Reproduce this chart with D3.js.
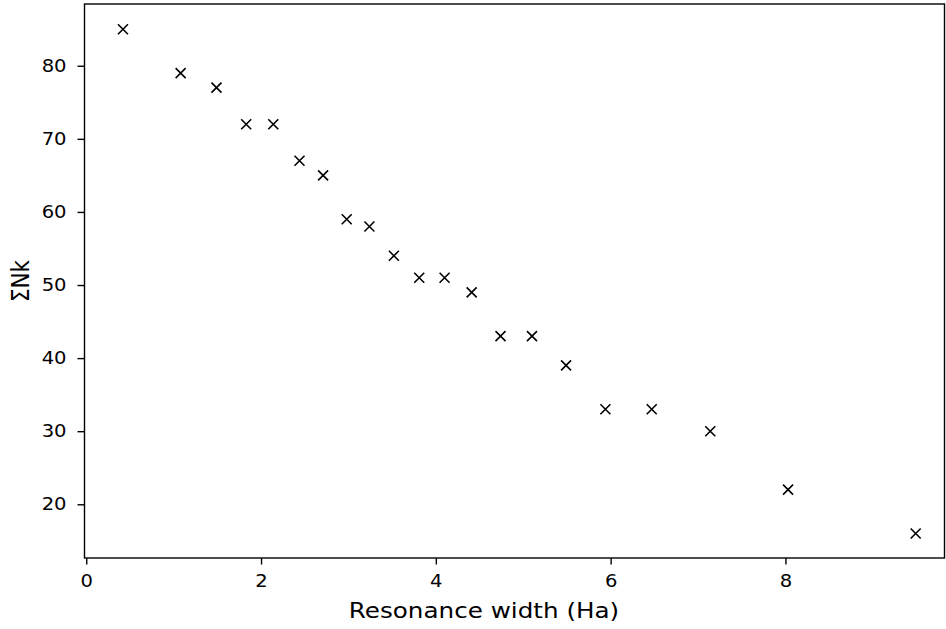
<!DOCTYPE html>
<html>
<head>
<meta charset="utf-8">
<script src="https://cdn.jsdelivr.net/npm/d3@7"></script>
<style>
  body { margin: 0; background: #fff; }
  #chart { width: 946px; height: 629px; }
  text { font-family: "DejaVu Sans", sans-serif; fill: #000; }
</style>
</head>
<body>
<div id="chart"></div>
<script>
// Datos
const widths = [0.42, 1.08, 1.49, 1.83, 2.14, 2.44, 2.71, 2.98, 3.24, 3.52, 3.81, 4.10, 4.41, 4.74, 5.10, 5.49, 5.94, 6.47, 7.14, 8.03, 9.49];
const sumNk = [85, 79, 77, 72, 72, 67, 65, 59, 58, 54, 51, 51, 49, 43, 43, 39, 33, 33, 30, 22, 16];
const xTicks = [0, 2, 4, 6, 8];
const yTicks = [20, 30, 40, 50, 60, 70, 80];

const data = widths.map(function(w, i) { return {x: w, y: sumNk[i]}; });

// la imagen original está estirada en horizontal
const STRETCH = 1.12;

let margin = {top: 4, right: 1.5, bottom: 71, left: 84.5},
    width = 946 - margin.left - margin.right,
    height = 629 - margin.top - margin.bottom;

let svg = d3.select("#chart")
    .append("svg")
        .attr("width", 946)
        .attr("height", 629)
    .append("g")
        .attr("transform", "translate(" + margin.left + "," + margin.top + ")");

let x = d3.scaleLinear()
    .domain([-0.02, 9.82])
    .range([0, width]);

let y = d3.scaleLinear()
    .domain([12.65, 88.45])
    .range([height, 0]);

let xAxis = svg.append("g")
    .attr("transform", "translate(0," + height + ")")
    .call(d3.axisBottom(x).tickValues(xTicks).tickFormat(d3.format("d")).tickSize(6.5).tickPadding(10.5));

let yAxis = svg.append("g")
    .call(d3.axisLeft(y).tickValues(yTicks).tickFormat(d3.format("d")).tickSize(7).tickPadding(9));

[xAxis, yAxis].forEach(function(g) {
    g.select(".domain").remove();
    g.selectAll("line").attr("stroke", "#000").attr("stroke-width", 1.4);
    g.selectAll("text")
        .style("font-size", "17.5px")
        .attr("fill", "#222")
        .attr("transform", "scale(" + STRETCH + ",1)");
});

// Marco
svg.append("rect")
    .attr("x", 0).attr("y", 0)
    .attr("width", width).attr("height", height)
    .attr("fill", "none")
    .attr("stroke", "#000")
    .attr("stroke-width", 1.4);

// Marcadores 'x'
let s = 5;
svg.append("g")
    .selectAll("path")
    .data(data)
    .enter()
    .append("path")
    .attr("transform", function(d) { return "translate(" + x(d.x) + "," + y(d.y) + ")"; })
    .attr("d", "M" + (-s) + "," + (-s) + "L" + s + "," + s + "M" + (-s) + "," + s + "L" + s + "," + (-s))
    .attr("stroke", "#000")
    .attr("stroke-width", 1.6)
    .attr("fill", "none");

// Etiquetas de ejes
svg.append("text")
    .attr("transform", "translate(" + (484 - margin.left) + "," + (618 - margin.top) + ") scale(" + STRETCH + ",1)")
    .attr("text-anchor", "middle")
    .attr("fill", "#222")
    .style("font-size", "22px")
    .text("Resonance width (Ha)");

svg.append("text")
    .attr("transform", "translate(" + (29 - margin.left) + "," + (height / 2) + ") rotate(-90) scale(1," + STRETCH + ")")
    .attr("text-anchor", "middle")
    .attr("fill", "#222")
    .style("font-size", "21.5px")
    .text("ΣNk");
</script>
</body>
</html>
